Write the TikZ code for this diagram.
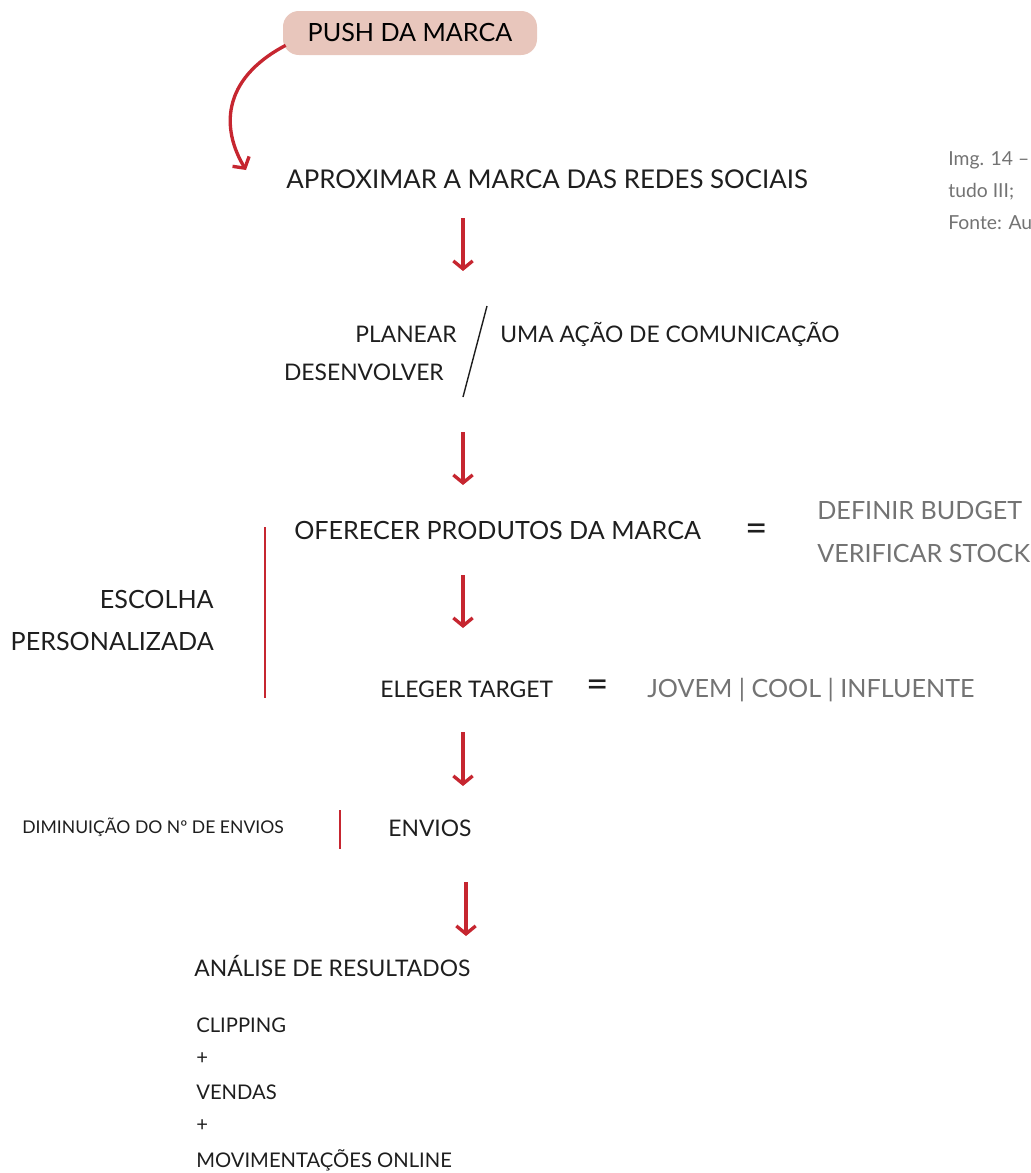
\documentclass[tikz,border=0pt]{standalone}
\usepackage{fontspec}
\setmainfont{Lato}
\usepackage{xcolor}
\usetikzlibrary{arrows.meta}
\definecolor{pushred}{RGB}{198,38,48}
\definecolor{pushpink}{RGB}{232,198,188}
\definecolor{softgray}{RGB}{115,115,115}
\definecolor{inkblack}{RGB}{30,30,30}
\tikzset{%
  stepnode/.style={inner sep=0pt, text=inkblack, font=\fontsize{13}{16}\selectfont},
  sidenode/.style={inner sep=0pt, text=softgray, font=\fontsize{14.3}{17}\selectfont},
  smallnode/.style={inner sep=0pt, text=inkblack, font=\fontsize{11.5}{14}\selectfont},
  tinynode/.style={inner sep=0pt, text=inkblack, font=\fontsize{10}{12}\selectfont},
  notenode/.style={inner sep=0pt, text=softgray, font=\fontsize{11}{13}\selectfont},
  eqnode/.style={inner sep=0pt, text=inkblack, font=\fontsize{22}{24}\selectfont},
  flowarrow/.style={draw=pushred, line width=1.9pt, -{Straight Barb[length=4.5pt,width=11pt,line width=1.9pt]}},
  redbar/.style={draw=pushred, line width=1.7pt},
}
\begin{document}
\begin{tikzpicture}[x=0.02cm, y=-0.02cm,
        pushbox/.style={rectangle, fill=pushpink, rounded corners=9pt, minimum width=254*0.02cm, minimum height=44*0.02cm, inner sep=0pt, font=\fontsize{14.3}{17}\selectfont, text=black},
    ]
        \useasboundingbox (0,0) rectangle (1031,1173);
        \clip (0,0) rectangle (1031,1173);

        %Nodes
        \node[pushbox] (push) at (410,33) {PUSH DA MARCA};
        \node[stepnode,font=\fontsize{14.7}{17}\selectfont,anchor=base west] (aprox) at (286,188) {APROXIMAR A MARCA DAS REDES SOCIAIS};

        \node[stepnode,anchor=base east] (planear) at (457,342) {PLANEAR};
        \node[stepnode,anchor=base east] (desenv) at (444,380) {DESENVOLVER};
        \node[stepnode,anchor=base west] (acao) at (500,342) {UMA AÇÃO DE COMUNICAÇÃO};
        \coordinate (slashTop) at (487,306);
        \coordinate (slashBot) at (463,397);

        \node[stepnode,font=\fontsize{14.3}{17}\selectfont,anchor=base west] (oferecer) at (294,539) {OFERECER PRODUTOS DA MARCA};
        \node[eqnode] (eq1) at (757,533) {=};
        \node[sidenode,anchor=base west] (budget) at (817,519) {DEFINIR BUDGET};
        \node[sidenode,anchor=base west] (stock) at (817,562) {VERIFICAR STOCK};

        \node[sidenode,text=inkblack,anchor=base east] (escolha) at (214,608) {ESCOLHA};
        \node[sidenode,text=inkblack,anchor=base east] (person) at (214,650) {PERSONALIZADA};
        \coordinate (barTop) at (265,527);
        \coordinate (barBot) at (265,698);

        \node[stepnode,anchor=base west] (eleger) at (380,697) {ELEGER TARGET};
        \node[eqnode] (eq2) at (598,689) {=};
        \node[sidenode,anchor=base west] (target) at (647,697) {JOVEM | COOL | INFLUENTE};

        \node[tinynode,anchor=base west] (diminui) at (22,833) {DIMINUIÇÃO DO Nº DE ENVIOS};
        \coordinate (envTop) at (340,810);
        \coordinate (envBot) at (340,849);
        \node[stepnode,anchor=base west] (envios) at (388,836) {ENVIOS};

        \node[stepnode,anchor=base west] (analise) at (194,976) {ANÁLISE DE RESULTADOS};
        \node[smallnode,anchor=base west] (clipping) at (196,1032) {CLIPPING};
        \node[smallnode,anchor=west] (plus1) at (196,1059) {+};
        \node[smallnode,anchor=base west] (vendas) at (196,1099) {VENDAS};
        \node[smallnode,anchor=west] (plus2) at (196,1126) {+};
        \node[smallnode,anchor=base west] (online) at (196,1167) {MOVIMENTAÇÕES ONLINE};

        \node[notenode,anchor=base west] (img) at (948,165) {Img. 14 –};
        \node[notenode,anchor=base west] (tudo) at (948,197) {tudo III;};
        \node[notenode,anchor=base west] (fonte) at (948,229) {Fonte: Au};

        %Lines
        \draw[flowarrow] (push.south west) ++(3,-10) .. controls (220,80) and (222,130) .. (246,170);
        \draw[flowarrow] (463,218) -- (463,271);
        \draw[flowarrow] (463,432) -- (463,485);
        \draw[flowarrow] (463,575) -- (463,628);
        \draw[flowarrow] (463,732) -- (463,786);
        \draw[flowarrow] (466,882) -- (466,936);
        \draw[line width=0.8pt, inkblack] (slashTop) -- (slashBot);
        \draw[redbar] (barTop) -- (barBot);
        \draw[redbar] (envTop) -- (envBot);
\end{tikzpicture}
\end{document}
